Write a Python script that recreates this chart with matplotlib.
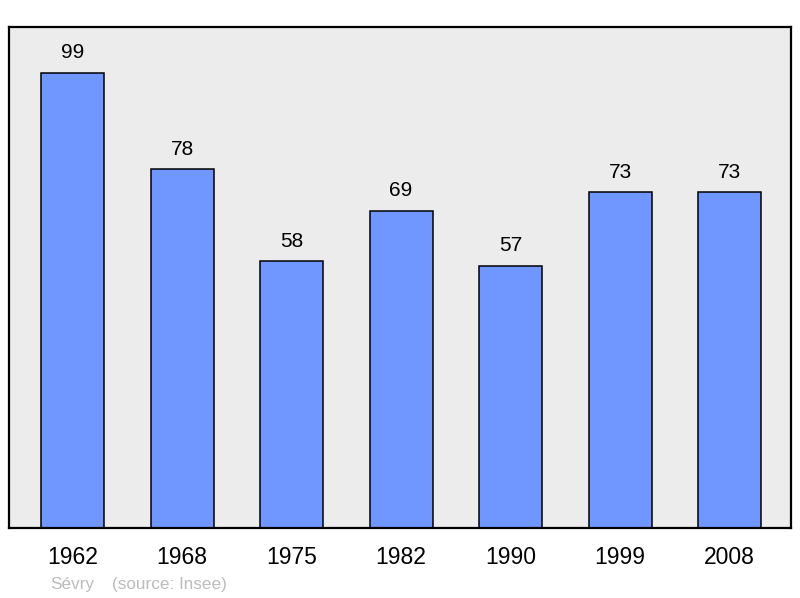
import matplotlib.pyplot as plt

years = ["1962", "1968", "1975", "1982", "1990", "1999", "2008"]
population = [99, 78, 58, 69, 57, 73, 73]

plt.rcParams["font.family"] = ["Liberation Sans", "DejaVu Sans"]

fig = plt.figure(figsize=(8, 5.98), dpi=100)
ax = fig.add_axes([9 / 800, 1 - 528 / 598, 782 / 800, 501 / 598])
ax.set_facecolor("#ececec")

x = range(len(years))
ax.bar(x, population, width=0.575, color="#7097ff", edgecolor="black", linewidth=1.1)
for xi, v in zip(x, population):
    ax.text(xi, v + 4.4, str(v), ha="center", va="center", fontsize=15)

ax.set_xlim(-0.58, 6.56)
ax.set_ylim(0, 109)
ax.set_yticks([])
ax.set_xticks(list(x))
ax.set_xticklabels(years, fontsize=16.5)
ax.tick_params(axis="x", length=0, pad=13)
for s in ax.spines.values():
    s.set_linewidth(1.6)

fig.text(50 / 800, 1 - 584 / 598, "Sévry", color="#bcbcbc",
         fontsize=12.3, va="center", ha="left")
fig.text(112 / 800, 1 - 584 / 598, "(source: Insee)", color="#bcbcbc",
         fontsize=12.3, va="center", ha="left")

fig.savefig("out.png", dpi=100)
